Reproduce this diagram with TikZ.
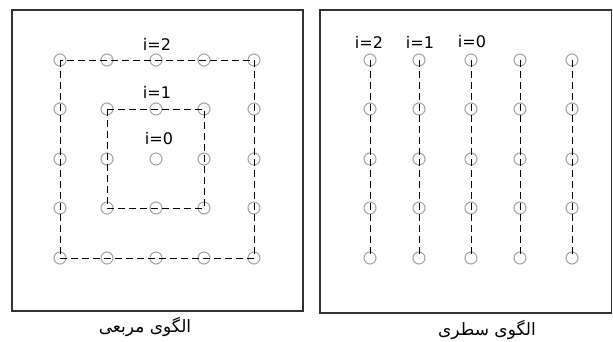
\documentclass[tikz,border=0pt]{standalone}
\usepackage{fontspec}
\setmainfont{DejaVu Sans}
\newfontfamily\arabicfont[Script=Arabic]{DejaVu Sans}
\TeXXeTstate=1

\tikzset{
  probe/.style={circle, draw=gray!70, line width=1.1pt, minimum size=12pt, inner sep=0pt},
  ring/.style={draw, line width=0.9pt, dash pattern=on 7pt off 4pt},
  frame/.style={draw=black!80, line width=1.3pt},
  lbl/.style={font=\fontsize{16}{19}\selectfont, inner sep=0pt},
  caption/.style={font=\fontsize{17}{20}\selectfont\arabicfont, inner sep=0pt}
}

\begin{document}
\begin{tikzpicture}[x=1pt,y=-1pt]
    \useasboundingbox (0,0) rectangle (613,342);
    % square pattern
    \draw[frame] (12,10) rectangle (303,311);
    \foreach \x [count=\i] in {60,107,156,204,254}
        \foreach \y [count=\j] in {60,109,159,208,258}
            \node[probe] (s-\i-\j) at (\x,\y) {};
    \draw[ring] (s-1-1.center) rectangle (s-5-5.center);
    \draw[ring] (s-2-2.center) rectangle (s-4-4.center);
    \node[lbl] (s-i2) at (157,44) {i=2};
    \node[lbl] (s-i1) at (157,92) {i=1};
    \node[lbl] (s-i0) at (159,139) {i=0};
    \node[caption] (s-cap) at (145,327) {\beginR الگوی مربعی\endR};

    % row pattern
    \draw[frame] (320,10) rectangle (611.5,313);
    \foreach \x [count=\i] in {370,419,471,520,572}
        \foreach \y [count=\j] in {60,109,159,208,258}
            \node[probe] (r-\i-\j) at (\x,\y) {};
    \foreach \i in {1,...,5}
        \draw[ring] (r-\i-1.center) -- (r-\i-5.center);
    \node[lbl] (r-i2) at (369,42) {i=2};
    \node[lbl] (r-i1) at (420,42) {i=1};
    \node[lbl] (r-i0) at (472,42) {i=0};
    \node[caption] (r-cap) at (487,330) {\beginR الگوی سطری\endR};
\end{tikzpicture}
\end{document}
